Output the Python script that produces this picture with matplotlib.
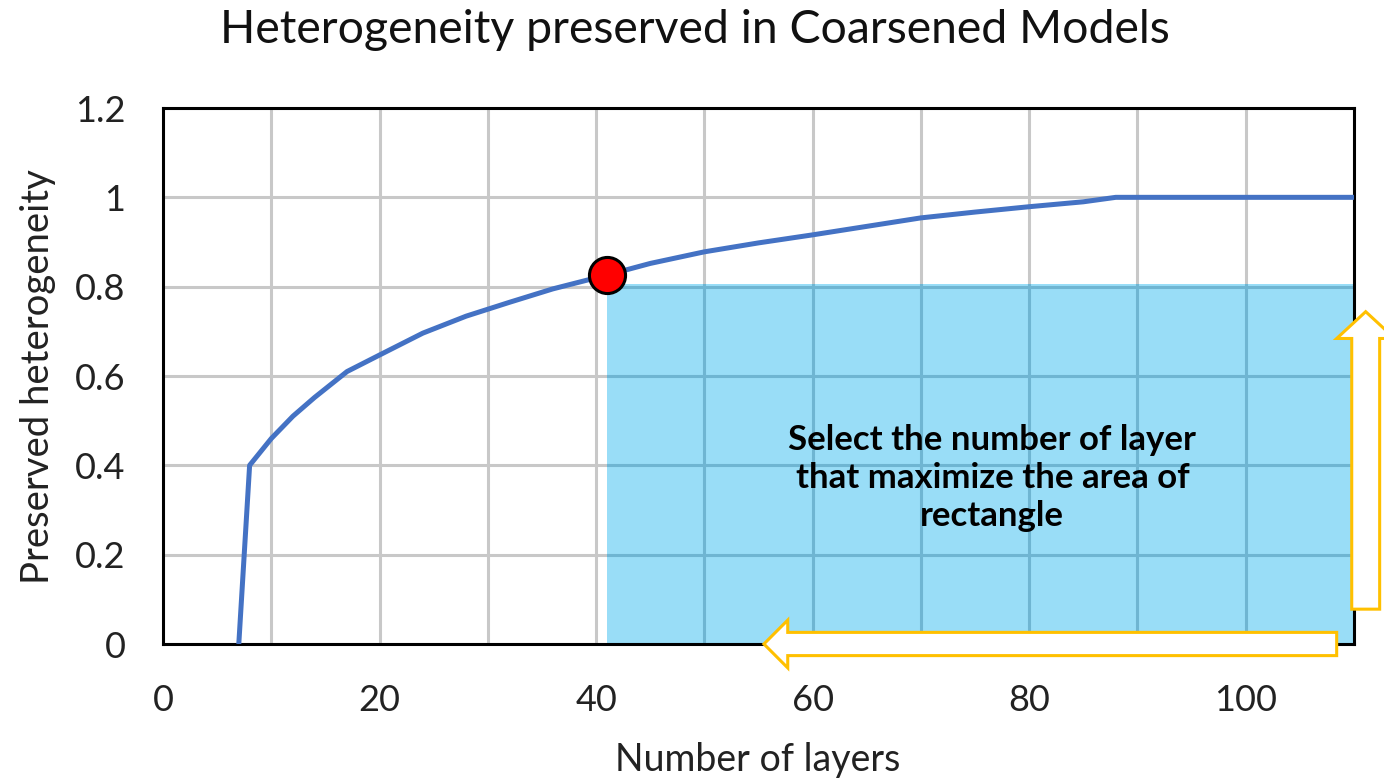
import matplotlib
matplotlib.use("Agg")
import matplotlib.pyplot as plt
from matplotlib.patches import Rectangle, FancyArrow
from matplotlib.lines import Line2D
from matplotlib.ticker import MultipleLocator, FuncFormatter

# ---- data ----
layers = [7, 8, 10, 12, 14, 17, 20, 24, 28, 32, 36, 41, 45, 50, 55, 60, 65, 70, 75, 80, 85, 88, 110]
heterogeneity = [0.0, 0.40, 0.46, 0.51, 0.552, 0.61, 0.647, 0.696, 0.734, 0.765, 0.795, 0.826,
                 0.852, 0.878, 0.898, 0.916, 0.935, 0.954, 0.967, 0.979, 0.99, 1.0, 1.0]
selected_layers = 41
rect_top = 0.807
x_range = (0, 110)
y_range = (0, 1.2)
x_labelled_ticks = [0, 20, 40, 60, 80, 100]
y_ticks = [0, 0.2, 0.4, 0.6, 0.8, 1.0, 1.2]
y_tick_labels = ["0", "0.2", "0.4", "0.6", "0.8", "1", "1.2"]

title = "Heterogeneity preserved in Coarsened Models"
xlabel = "Number of layers"
ylabel = "Preserved heterogeneity"
note = "Select the number of layer\nthat maximize the area of\nrectangle"

# annotation arrow geometry (data units)
up_arrow = dict(x=111.08, y=0.078, dy=0.666, width=2.58, head_width=5.36, head_length=0.06)
left_arrow = dict(x=108.4, y=0.0, dx=-52.9, width=0.052, head_width=0.107, head_length=2.2)

FONT = ["Lato", "DejaVu Sans"]
plt.rcParams["font.family"] = FONT

W, H = 1384, 779
fig = plt.figure(figsize=(W / 100, H / 100), dpi=100)
ax = fig.add_axes([163 / W, 1 - 644 / H, (1354 - 163) / W, (644 - 108) / H])
ax.set_xlim(*x_range)
ax.set_ylim(*y_range)

ax.xaxis.set_major_locator(MultipleLocator(10))
ax.xaxis.set_major_formatter(FuncFormatter(lambda v, p: f"{int(round(v))}" if int(round(v)) in x_labelled_ticks else ""))
ax.set_yticks(y_ticks)
ax.set_yticklabels(y_tick_labels)
ax.tick_params(axis="both", length=0, labelsize=26, colors="#222222")
ax.tick_params(axis="x", pad=29)
ax.tick_params(axis="y", pad=27)

ax.grid(True, color="#c8c8c8", lw=2.2, zorder=0)
ax.set_axisbelow(True)
for s in ax.spines.values():
    s.set_color("black")
    s.set_linewidth(2.2)
    s.set_zorder(3)

# rectangle
rect = Rectangle((selected_layers, 0), x_range[1] - selected_layers, rect_top,
                 facecolor="#99ddf7", edgecolor="none", zorder=1)
ax.add_patch(rect)

# curve
ax.plot(layers, heterogeneity, color="#4472C4", lw=3.6, zorder=4, solid_capstyle="butt")
i = layers.index(selected_layers)
ax.plot([layers[i]], [heterogeneity[i]], "o", ms=26, mfc="#ff0000", mec="black", mew=2.2, zorder=6)

# arrows
ua = FancyArrow(up_arrow["x"], up_arrow["y"], 0, up_arrow["dy"], width=up_arrow["width"],
                head_width=up_arrow["head_width"], head_length=up_arrow["head_length"],
                length_includes_head=True, facecolor="white", edgecolor="#ffc000", lw=2.2,
                clip_on=False, zorder=7)
ax.add_patch(ua)
la = FancyArrow(left_arrow["x"], left_arrow["y"], left_arrow["dx"], 0, width=left_arrow["width"],
                head_width=left_arrow["head_width"], head_length=left_arrow["head_length"],
                length_includes_head=True, facecolor="white", edgecolor="#ffc000", lw=2.2,
                clip_on=False, zorder=7)
ax.add_patch(la)

# note text
ax.text(76.6, 0.372, note, ha="center", va="center", fontsize=25, fontweight="bold",
        linespacing=1.22, color="black", zorder=8)

# labels and title
fig.text(758 / W, 1 - 771 / H, xlabel, ha="center", va="baseline", fontsize=27, color="#222222")
fig.text(38 / W, 1 - 377 / H, ylabel, ha="center", va="center", rotation=90, fontsize=27.5,
         color="#222222")
fig.text(0.502, 1 - 43 / H, title, ha="center", va="baseline", fontsize=33.4, color="#111111")

# grid lines seen through the rectangle (darker blue), clipped to it
fig.canvas.draw()
for gl in ax.get_xgridlines() + ax.get_ygridlines():
    if gl.get_visible():
        ln = Line2D(gl.get_xdata(), gl.get_ydata(), transform=gl.get_transform(),
                    color="#6fb5d2", lw=2.2, zorder=1.5)
        ax.add_artist(ln)
        ln.set_clip_path(rect)

fig.savefig("out.png", dpi=100)
